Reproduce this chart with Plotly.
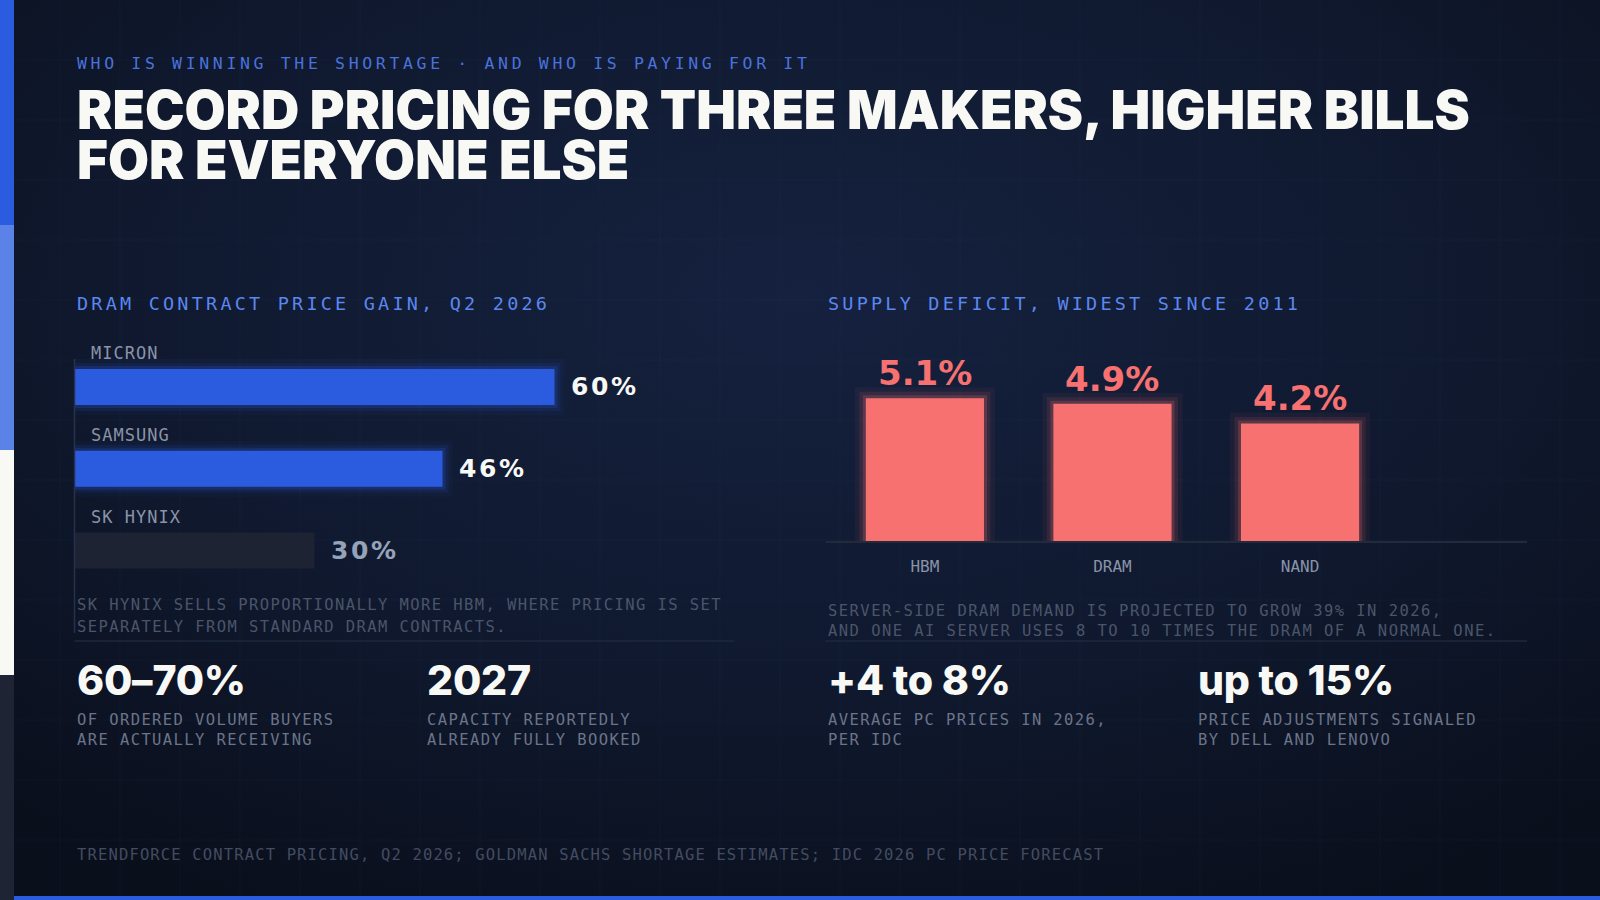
import base64
import plotly.graph_objects as go

# ---- data ----
makers = ["MICRON", "SAMSUNG", "SK HYNIX"]
price_gain = [60, 46, 30]
gain_labels = ["60%", "46%", "30%"]

segments = ["HBM", "DRAM", "NAND"]
deficit = [5.1, 4.9, 4.2]
deficit_labels = ["5.1%", "4.9%", "4.2%"]

stat_values = ["60–70%", "2027", "+4 to 8%", "up to 15%"]
stat_notes = [
    ["OF ORDERED VOLUME BUYERS", "ARE ACTUALLY RECEIVING"],
    ["CAPACITY REPORTEDLY", "ALREADY FULLY BOOKED"],
    ["AVERAGE PC PRICES IN 2026,", "PER IDC"],
    ["PRICE ADJUSTMENTS SIGNALED", "BY DELL AND LENOVO"],
]

kicker = "WHO IS WINNING THE SHORTAGE · AND WHO IS PAYING FOR IT"
title_lines = ["RECORD PRICING FOR THREE MAKERS, HIGHER BILLS", "FOR EVERYONE ELSE"]
left_title = "DRAM CONTRACT PRICE GAIN, Q2 2026"
right_title = "SUPPLY DEFICIT, WIDEST SINCE 2011"
left_note = ["SK HYNIX SELLS PROPORTIONALLY MORE HBM, WHERE PRICING IS SET",
             "SEPARATELY FROM STANDARD DRAM CONTRACTS."]
right_note = ["SERVER-SIDE DRAM DEMAND IS PROJECTED TO GROW 39% IN 2026,",
              "AND ONE AI SERVER USES 8 TO 10 TIMES THE DRAM OF A NORMAL ONE."]
source_text = ("TRENDFORCE CONTRACT PRICING, Q2 2026; GOLDMAN SACHS SHORTAGE ESTIMATES; "
               "IDC 2026 PC PRICE FORECAST")

# ---- styling ----
W, H = 1600, 900
MONO = "DejaVu Sans Mono, monospace"
DISPLAY = "Inter, Roboto, sans-serif"
WIDE = "DejaVu Sans, sans-serif"
BLUE = "#2B5CE0"
SALMON = "#F87171"
WHITE = "#F8F8F5"
bar_colors = [BLUE, BLUE, "#1E2333"]
label_colors = [WHITE, WHITE, "#94A3B8"]


def px(x):
    return x / W


def py(y):
    return 1 - y / H


def spaced(t, ls):
    return f"<span style='letter-spacing:{ls}px'>{t}</span>"


annotations = []


def text(x, y, t, size, color, family=MONO, ls=0, weight=400, yanchor="middle"):
    annotations.append(dict(
        x=px(x), y=py(y), xref="paper", yref="paper", text=t if not ls else spaced(t, ls),
        showarrow=False, xanchor="left", yanchor=yanchor, align="left",
        font=dict(family=family, size=size, color=color, weight=weight)))


fig = go.Figure()

# left chart: glow layers then bars
for w, a in [(20, 0.05), (12, 0.11), (6, 0.2)]:
    glow = [f"rgba(43,92,224,{a})" if c == BLUE else "rgba(0,0,0,0)" for c in bar_colors]
    fig.add_trace(go.Bar(x=price_gain, y=makers, orientation="h", width=0.44,
                         marker=dict(color="rgba(0,0,0,0)", line=dict(width=w, color=glow)),
                         hoverinfo="skip", xaxis="x", yaxis="y"))
fig.add_trace(go.Bar(x=price_gain, y=makers, orientation="h", width=0.44,
                     marker=dict(color=bar_colors, line=dict(width=0)),
                     hoverinfo="skip", xaxis="x", yaxis="y"))

# right chart
for w, a in [(22, 0.05), (13, 0.11), (6, 0.2)]:
    fig.add_trace(go.Bar(x=segments, y=deficit, width=0.63,
                         marker=dict(color="rgba(0,0,0,0)",
                                     line=dict(width=w, color=f"rgba(248,113,113,{a})")),
                         hoverinfo="skip", xaxis="x2", yaxis="y2"))
fig.add_trace(go.Bar(x=segments, y=deficit, width=0.63,
                     marker=dict(color=SALMON, line=dict(width=0)),
                     hoverinfo="skip", xaxis="x2", yaxis="y2"))

# labels on the bar charts
for m, v, lab, c in zip(makers, price_gain, gain_labels, label_colors):
    annotations.append(dict(x=0, y=m, xref="x", yref="y", xshift=14, yshift=34,
                            text=spaced(m, 1), showarrow=False, xanchor="left",
                            font=dict(family=MONO, size=17, color="#8A93A8")))
    annotations.append(dict(x=v, y=m, xref="x", yref="y", xshift=14, text=spaced(lab, 2.6),
                            showarrow=False, xanchor="left",
                            font=dict(family=WIDE, size=25, color=c, weight=700)))
for s, v, lab in zip(segments, deficit, deficit_labels):
    annotations.append(dict(x=s, y=v, xref="x2", yref="y2", yshift=3, text=lab,
                            showarrow=False, yanchor="bottom",
                            font=dict(family=WIDE, size=34, color=SALMON, weight=700)))

# header: the two title lines share one text block; the small base size gives the tight leading
text(74.5, 63, kicker, 16.5, "#4A72DC", ls=3.65)
title_html = "<br>".join(f"<span style='font-size:53px'>{t}</span>" for t in title_lines)
text(74.5, 135, title_html, 38.5, WHITE, family=DISPLAY, weight=900)

# section titles
text(74.5, 303, left_title, 18.5, "#5B87EE", ls=3.2)
text(825.5, 303, right_title, 18.5, "#5B87EE", ls=3.2)

# notes
for i, line in enumerate(left_note):
    text(74.5, 605 + 21.5 * i, line, 15.5, "#4B556A", ls=1.42)
for i, line in enumerate(right_note):
    text(825.5, 611 + 20 * i, line, 15.5, "#4B556A", ls=1.45)

# stats row
stat_x = [74.5, 424.5, 825.5, 1196]
for x, v, lines in zip(stat_x, stat_values, stat_notes):
    text(x, 680, v, 41, WHITE, family=DISPLAY, weight=800, ls=-0.2)
    for i, line in enumerate(lines):
        text(x, 719.5 + 20.5 * i, line, 15.5, "#6B7489", ls=1.4)

text(74.5, 855, source_text, 15.5, "#434C60", ls=1.15)

# decorations
shapes = []
for k in range(1, 27):
    shapes.append(dict(type="line", xref="paper", yref="paper", x0=px(60 * k), x1=px(60 * k),
                       y0=0, y1=1, line=dict(color="rgba(120,150,220,0.045)", width=1), layer="below"))
for k in range(1, 15):
    shapes.append(dict(type="line", xref="paper", yref="paper", x0=0, x1=1,
                       y0=py(60 * k), y1=py(60 * k),
                       line=dict(color="rgba(120,150,220,0.045)", width=1), layer="below"))
stripe = ["#2B5CE0", "#5B82E6", "#F8F8F5", "#1E2433"]
for i, c in enumerate(stripe):
    shapes.append(dict(type="rect", xref="paper", yref="paper", x0=0, x1=px(14),
                       y0=py(225 * (i + 1)), y1=py(225 * i), fillcolor=c, line=dict(width=0)))
shapes.append(dict(type="rect", xref="paper", yref="paper", x0=px(14), x1=1, y0=0, y1=py(896),
                   fillcolor=BLUE, line=dict(width=0)))
# axis rule of the left chart and section dividers
shapes.append(dict(type="line", xref="paper", yref="paper", x0=px(74.5), x1=px(74.5),
                   y0=py(359), y1=py(633), line=dict(color="#26314B", width=1.5)))
shapes.append(dict(type="line", xref="paper", yref="paper", x0=px(74.5), x1=px(734),
                   y0=py(641), y1=py(641), line=dict(color="#1E283D", width=1.5)))
shapes.append(dict(type="line", xref="paper", yref="paper", x0=px(825.5), x1=px(1527),
                   y0=py(641), y1=py(641), line=dict(color="#1E283D", width=1.5)))

bg_svg = (
    '<svg xmlns="http://www.w3.org/2000/svg" width="1600" height="900">'
    '<defs><radialGradient id="g" cx="0.5" cy="0.33" r="0.75">'
    '<stop offset="0" stop-color="#15213F"/><stop offset="0.6" stop-color="#0F182D"/>'
    '<stop offset="1" stop-color="#0A0F1C"/></radialGradient></defs>'
    '<rect width="1600" height="900" fill="url(#g)"/></svg>'
)
bg_src = "data:image/svg+xml;base64," + base64.b64encode(bg_svg.encode()).decode()

fig.update_layout(
    width=W, height=H, margin=dict(l=0, r=0, t=0, b=0),
    paper_bgcolor="#0E1629", plot_bgcolor="rgba(0,0,0,0)",
    barmode="overlay", showlegend=False,
    xaxis=dict(domain=[px(74.5), px(714.5)], range=[0, 80], visible=False, fixedrange=True),
    yaxis=dict(domain=[py(591.5), py(346)], range=[2.5, -0.5], type="category",
               visible=False, fixedrange=True),
    xaxis2=dict(domain=[px(825.5), px(1527)], range=[-0.53, 3.21], type="category",
                anchor="y2", showline=True, linecolor="#222A3B", linewidth=2,
                showgrid=False, zeroline=False, ticks="", ticklabelstandoff=10,
                tickfont=dict(family=MONO, size=16, color="#8A93A8"), fixedrange=True),
    yaxis2=dict(domain=[py(541), py(373)], range=[0, 6], anchor="x2", visible=False,
                fixedrange=True),
    annotations=annotations, shapes=shapes,
    images=[dict(source=bg_src, xref="paper", yref="paper", x=0, y=1, sizex=1, sizey=1,
                 xanchor="left", yanchor="top", sizing="stretch", layer="below")],
)

fig.write_html("out.html", config={"displayModeBar": False},
               post_script="document.body.style.margin='0';document.body.style.overflow='hidden';")
